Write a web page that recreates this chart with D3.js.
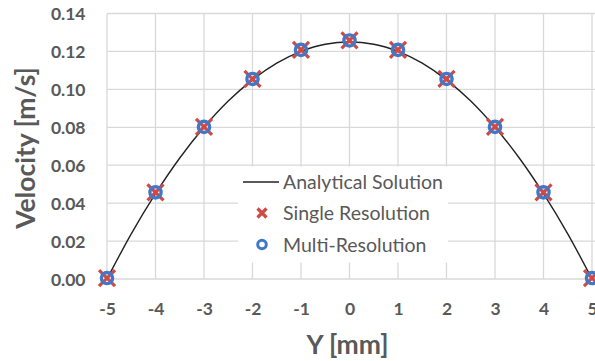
<!DOCTYPE html>
<html><head><meta charset="utf-8">
<script src="https://cdn.jsdelivr.net/npm/d3@7"></script>
<style>body{margin:0;background:#fff}svg{display:block}</style>
</head><body>
<script>
const xTicks = [-5,-4,-3,-2,-1,0,1,2,3,4,5];
const yTicks = [0,0.02,0.04,0.06,0.08,0.10,0.12,0.14];
const analyticY = [-5,-4.5,-4,-3.5,-3,-2.5,-2,-1.5,-1,-0.5,0,0.5,1,1.5,2,2.5,3,3.5,4,4.5,5];
const analyticV = [0,0.0238,0.045,0.0638,0.080,0.0938,0.105,0.1138,0.120,0.1238,0.125,0.1238,0.120,0.1138,0.105,0.0938,0.080,0.0638,0.045,0.0238,0];
const pointY = [-5,-4,-3,-2,-1,0,1,2,3,4,5];
const singleV = [0.0005,0.0457,0.0802,0.1055,0.1208,0.1258,0.1208,0.1055,0.0802,0.0457,0.0005];
const multiV  = [0.0005,0.0457,0.0802,0.1055,0.1208,0.1258,0.1208,0.1055,0.0802,0.0457,0.0005];
const legendLabels = ["Analytical Solution","Single Resolution","Multi-Resolution"];

const W=595,H=361;
const svg=d3.select("body").append("svg").attr("width",W).attr("height",H);
const x=d3.scaleLinear().domain([-5,5]).range([107,592]);
const y=d3.scaleLinear().domain([0,0.14]).range([279,13.5]);
const font="Lato, 'Open Sans', sans-serif";
const grid="#d9d9d9", txt="#595959";
const red="#d04a45", blue="#3f78c8";

// grid
svg.append("g").selectAll("line").data(yTicks).join("line")
  .attr("x1",x(-5)).attr("x2",W).attr("y1",d=>y(d)).attr("y2",d=>y(d))
  .attr("stroke",grid).attr("stroke-width",1.3);
svg.append("g").selectAll("line").data(xTicks).join("line")
  .attr("x1",d=>x(d)).attr("x2",d=>x(d)).attr("y1",y(0.14)).attr("y2",y(0))
  .attr("stroke",grid).attr("stroke-width",1.3);

// axes labels
const ya=d3.axisLeft(y).tickValues(yTicks).tickFormat(d3.format(".2f")).tickSize(0).tickPadding(0);
const gy=svg.append("g").attr("transform","translate(85.5,0)").call(ya);
gy.select(".domain").remove();
gy.selectAll("text").attr("dy","0.36em").attr("font-family",font).attr("font-weight","bold").attr("font-size",17.5).attr("fill",txt);
const xa=d3.axisBottom(x).tickValues(xTicks).tickFormat(d=>String(d)).tickSize(0).tickPadding(0);
const gx=svg.append("g").attr("transform","translate(0,308.5)").call(xa);
gx.select(".domain").remove();
gx.selectAll("text").attr("y",0).attr("dy","0.36em").attr("font-family",font).attr("font-weight","bold").attr("font-size",17.5).attr("fill",txt);

// line
const line=d3.line().x((d,i)=>x(analyticY[i])).y(d=>y(d)).curve(d3.curveMonotoneX);
svg.append("path").attr("d",line(analyticV)).attr("fill","none").attr("stroke","#222").attr("stroke-width",1.4);

function drawX(g,cx,cy,s){
  g.append("path").attr("d",`M${cx-s},${cy-s}L${cx+s},${cy+s}M${cx-s},${cy+s}L${cx+s},${cy-s}`)
   .attr("stroke",red).attr("stroke-width",3.2).attr("fill","none");
}
const gs=svg.append("g");
singleV.forEach((v,i)=>drawX(gs,x(pointY[i]),y(v),8));
svg.append("g").selectAll("circle").data(multiV).join("circle")
  .attr("cx",(d,i)=>x(pointY[i])).attr("cy",d=>y(d)).attr("r",5.6)
  .attr("fill","none").attr("stroke",blue).attr("stroke-width",3.4);

// legend
const lg=svg.append("g");
lg.append("rect").attr("x",238).attr("y",166.5).attr("width",210).attr("height",96).attr("fill","#fff");
lg.append("line").attr("x1",243).attr("x2",279).attr("y1",182).attr("y2",182).attr("stroke","#222").attr("stroke-width",1.4);
drawX(lg,262,213,4.5);
lg.append("circle").attr("cx",262).attr("cy",244.5).attr("r",4.3).attr("fill","none").attr("stroke",blue).attr("stroke-width",3);
lg.selectAll("text").data(legendLabels).join("text")
  .attr("x",283).attr("y",(d,i)=>181.5+i*31.5).attr("dy","0.36em")
  .attr("font-family",font).attr("font-size",19.5).attr("fill",txt).text(d=>d);

// titles
svg.append("text").attr("transform","translate(25,148) rotate(-90)").attr("text-anchor","middle").attr("dy","0.36em")
  .attr("font-family",font).attr("font-weight","bold").attr("font-size",26.5).attr("fill",txt).text("Velocity [m/s]");
svg.append("text").attr("x",347.5).attr("y",344).attr("text-anchor","middle").attr("dy","0.36em")
  .attr("font-family",font).attr("font-weight","bold").attr("font-size",26.5).attr("fill",txt).text("Y [mm]");
</script>
</body></html>
